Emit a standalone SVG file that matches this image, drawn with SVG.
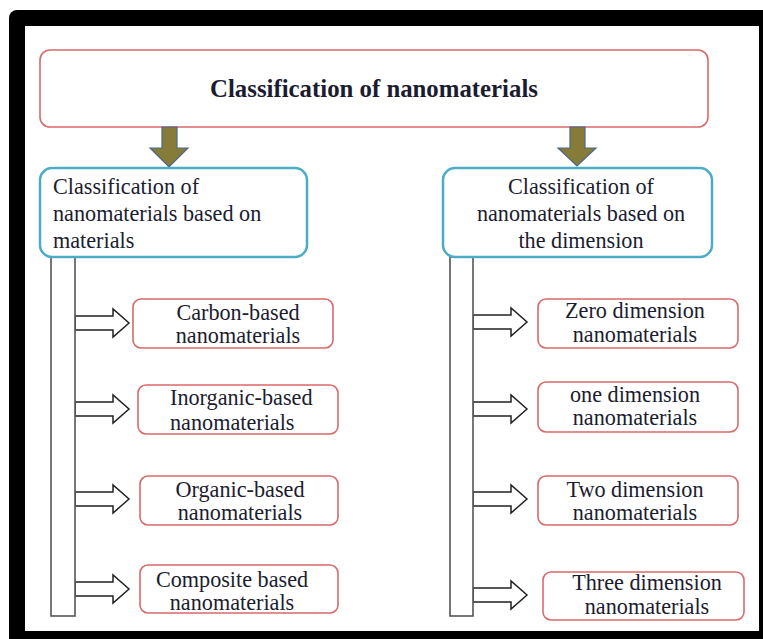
<svg xmlns="http://www.w3.org/2000/svg" width="763" height="639" viewBox="0 0 763 639">
<style>
.t{font-family:"Liberation Serif","Times New Roman",serif;font-size:22.2px;fill:#1c1c30}
.c{text-anchor:middle}
.title{font-family:"Liberation Serif","Times New Roman",serif;font-size:24.8px;font-weight:bold;fill:#1c1c30;text-anchor:middle}
.red{fill:#fff;stroke:#d96a6a;stroke-width:1.6}
.blue{fill:#fff;stroke:#4bacc6;stroke-width:2.5}
.bar{fill:#fff;stroke:#555;stroke-width:1.6}
.ba{fill:#fff;stroke:#222;stroke-width:1.5;stroke-linejoin:miter}
.down{fill:#877b3a;stroke:#4a6a8c;stroke-width:1.2}
</style>
<defs>
<path id="blk" d="M0,-7 H38 V-14 L54,0 L38,14 V7 H0 Z"/>
</defs>
<rect x="0" y="0" width="763" height="639" fill="#fff"/>
<rect x="9" y="10" width="780" height="660" rx="8" fill="#000"/>
<rect x="25" y="26" width="734" height="605" fill="#fff"/>

<g id="title">
<rect class="red" x="40" y="50" width="668" height="77" rx="10"/>
<text class="title" x="374" y="97">Classification of nanomaterials</text>
</g>

<g id="connectors">
<path class="down" d="M162,127 V148 H150 L169,167 L188,148 H177 V127 Z"/>
<path class="down" d="M570,127 V148 H558 L577,166 L596,148 H585 V127 Z"/>
<use href="#blk" class="ba" x="75" y="323"/>
<use href="#blk" class="ba" x="75" y="409"/>
<use href="#blk" class="ba" x="75" y="499"/>
<use href="#blk" class="ba" x="75" y="589"/>
<use href="#blk" class="ba" x="473" y="322"/>
<use href="#blk" class="ba" x="473" y="409"/>
<use href="#blk" class="ba" x="473" y="499"/>
<use href="#blk" class="ba" x="473" y="595"/>
</g>

<g id="bar-left"><rect class="bar" x="51" y="257" width="24" height="359"/></g>
<g id="bar-right"><rect class="bar" x="450" y="257" width="23" height="359"/></g>

<g id="materials">
<rect class="blue" x="40" y="168" width="267" height="89" rx="12"/>
<text class="t" x="53" y="194">Classification of</text>
<text class="t" x="53" y="221">nanomaterials based on</text>
<text class="t" x="53" y="248">materials</text>
</g>

<g id="dimension">
<rect class="blue" x="443" y="168" width="269" height="89" rx="12"/>
<text class="t c" x="581" y="194">Classification of</text>
<text class="t c" x="581" y="221">nanomaterials based on</text>
<text class="t c" x="581" y="248">the dimension</text>
</g>

<g id="carbon">
<rect class="red" x="133" y="299" width="200" height="49" rx="8"/>
<text class="t c" x="238" y="320">Carbon-based</text>
<text class="t c" x="238" y="343">nanomaterials</text>
</g>
<g id="inorganic">
<rect class="red" x="138" y="385" width="200" height="49" rx="8"/>
<text class="t" x="170" y="405">Inorganic-based</text>
<text class="t" x="170" y="430">nanomaterials</text>
</g>
<g id="organic">
<rect class="red" x="140" y="476" width="198" height="49" rx="8"/>
<text class="t c" x="240" y="497">Organic-based</text>
<text class="t c" x="240" y="520">nanomaterials</text>
</g>
<g id="composite">
<rect class="red" x="140" y="565" width="198" height="48" rx="8"/>
<text class="t c" x="232" y="587">Composite based</text>
<text class="t c" x="232" y="610">nanomaterials</text>
</g>

<g id="zero">
<rect class="red" x="538" y="299" width="200" height="49" rx="8"/>
<text class="t c" x="635" y="318">Zero dimension</text>
<text class="t c" x="635" y="342">nanomaterials</text>
</g>
<g id="one">
<rect class="red" x="538" y="382" width="200" height="50" rx="8"/>
<text class="t c" x="635" y="402">one dimension</text>
<text class="t c" x="635" y="425">nanomaterials</text>
</g>
<g id="two">
<rect class="red" x="538" y="476" width="200" height="49" rx="8"/>
<text class="t c" x="635" y="497">Two dimension</text>
<text class="t c" x="635" y="520">nanomaterials</text>
</g>
<g id="three">
<rect class="red" x="543" y="572" width="201" height="48" rx="8"/>
<text class="t c" x="647" y="590">Three dimension</text>
<text class="t c" x="647" y="614">nanomaterials</text>
</g>
</svg>
